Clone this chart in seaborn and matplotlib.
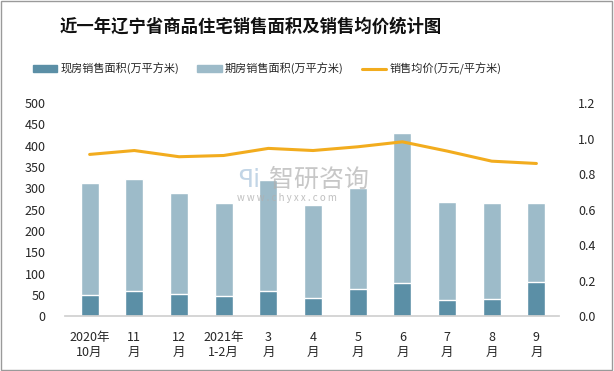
import matplotlib
matplotlib.use('Agg')
import matplotlib.pyplot as plt
import seaborn as sns
import pandas as pd
from matplotlib.patches import Patch, Rectangle
from matplotlib.lines import Line2D

months = ['2020年\n10月', '11\n月', '12\n月', '2021年\n1-2月', '3\n月', '4\n月',
          '5\n月', '6\n月', '7\n月', '8\n月', '9\n月']
xianfang = [49, 59, 52, 47, 59, 42, 63, 77, 38, 40, 80]
qifang = [263, 262, 237, 218, 261, 219, 237, 353, 230, 225, 185]
price = [0.911, 0.933, 0.898, 0.905, 0.945, 0.933, 0.954, 0.982, 0.93, 0.873, 0.860]

sns.set_theme(style='white')
plt.rcParams['font.family'] = ['Noto Sans CJK SC', 'DejaVu Sans']

df = pd.DataFrame({'month': months, 'xianfang': xianfang, 'qifang': qifang, 'price': price})
df['total'] = df['xianfang'] + df['qifang']

c_dark = '#5b8fa6'
c_light = '#9dbbc9'
c_line = '#f2ac1e'

fig = plt.figure(figsize=(6.14, 3.71), dpi=100)
ax = fig.add_axes([0.106, 0.148, 0.804, 0.574])

sns.barplot(data=df, x='month', y='total', color=c_light, width=0.4, saturation=1, ax=ax)
sns.barplot(data=df, x='month', y='xianfang', color=c_dark, width=0.4, saturation=1, ax=ax)
ax.set_ylim(0, 500)
ax.set_yticks(range(0, 501, 50))
ax.set_xlim(-0.55, 10.5)
ax.set_xlabel('')
ax.set_ylabel('')
ax.tick_params(axis='x', labelsize=9, length=0, pad=11)
ax.tick_params(axis='y', labelsize=9, length=0, pad=14)
for s in ['top', 'right', 'left']:
    ax.spines[s].set_visible(False)
ax.spines['bottom'].set_color('#d0d0d0')

ax2 = ax.twinx()
sns.lineplot(x=range(len(months)), y=price, color=c_line, linewidth=2.2, ax=ax2)
ax2.set_ylim(0, 1.2)
ax2.set_yticks([0, 0.2, 0.4, 0.6, 0.8, 1.0, 1.2])
ax2.set_yticklabels(['0.0', '0.2', '0.4', '0.6', '0.8', '1.0', '1.2'])
ax2.tick_params(axis='y', labelsize=9, length=0, pad=14)
for s in ['top', 'right', 'left', 'bottom']:
    ax2.spines[s].set_visible(False)

# watermark
fig.text(0.388, 0.515, 'ꟼi', fontsize=18, color='#a9c4dc', alpha=0.7, va='center', family='DejaVu Sans')
fig.text(0.438, 0.515, '智研咨询', fontsize=18, color='#b0b0b0', alpha=0.7, va='center')
fig.text(0.386, 0.466, 'w w w . c h y x x . c o m', fontsize=7, color='#b0b0b0', alpha=0.8, va='center')

fig.text(0.408, 0.927, '近一年辽宁省商品住宅销售面积及销售均价统计图', ha='center', va='center',
         fontsize=12.5, fontweight='bold', color='#111111')

handles = [Patch(color=c_dark), Patch(color=c_light), Line2D([0], [0], color=c_line, lw=2.2)]
labels = ['现房销售面积(万平方米)', '期房销售面积(万平方米)', '销售均价(万元/平方米)']
fig.legend(handles, labels, loc='center', bbox_to_anchor=(0.435, 0.815), ncol=3, frameon=False,
           fontsize=8, handlelength=2.2, handleheight=0.6, columnspacing=1.6, handletextpad=0.3)

fig.add_artist(Rectangle((0.002, 0.003), 0.995, 0.994, transform=fig.transFigure, fill=False,
                         edgecolor='#9a9a9a', linewidth=1))

fig.savefig('out.png', dpi=100)
